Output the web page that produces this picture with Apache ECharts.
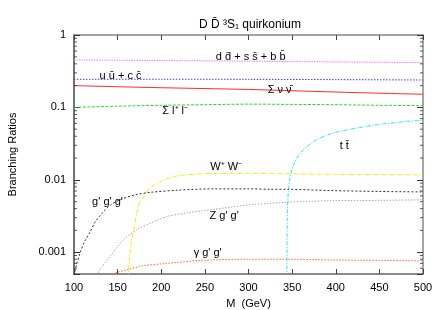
<!DOCTYPE html>
<html><head><meta charset="utf-8">
<script src="https://cdn.jsdelivr.net/npm/echarts@6/dist/echarts.min.js"></script>
<style>html,body{margin:0;padding:0;background:#fff}#c{width:443px;height:310px}</style>
</head><body><div id="c"></div>
<script>
// Data: [M (GeV), branching ratio]
const ddss = [[100,0.452],[150,0.448],[200,0.444],[250,0.440],[300,0.435],[350,0.430],[400,0.425],[450,0.420],[500,0.415]];
const uucc = [[100,0.244],[200,0.245],[300,0.244],[400,0.242],[500,0.239]];
const nunu = [[100,0.200],[150,0.193],[200,0.187],[250,0.182],[300,0.177],[350,0.170],[400,0.163],[450,0.157],[500,0.152]];
const llbar = [[100,0.100],[150,0.104],[200,0.107],[250,0.109],[300,0.111],[350,0.110],[400,0.109],[450,0.107],[500,0.106]];
const ttbar = [[344,0.00045],[344.4,0.003],[345,0.0052],[346,0.0074],[347.8,0.011],[351.6,0.016],[359.3,0.0233],[374.5,0.0337],[393.7,0.043],[412.8,0.0488],[451,0.0585],[500,0.067]];
const wwbar = [[162,0.00045],[163.5,0.0008],[165,0.0012],[168,0.0019],[173.8,0.0043],[176,0.0050],[181.5,0.0062],[186,0.0075],[192,0.0085],[198.7,0.0094],[207,0.0104],[217.8,0.0113],[240.8,0.0120],[270,0.0123],[300,0.0123],[350,0.0121],[400,0.0119],[450,0.0118],[500,0.0117]];
const gggs = [[100,0.00048],[103,0.00068],[106.9,0.00097],[112,0.0014],[118.4,0.0019],[125,0.0027],[133.6,0.0036],[142,0.0045],[152.8,0.0053],[170,0.0062],[187,0.0067],[220,0.0072],[260,0.0075],[300,0.0075],[325,0.0074],[344,0.0074],[394,0.0071],[450,0.0069],[500,0.0068]];
const zggs = [[126,0.00048],[132,0.00063],[141.3,0.00087],[156.6,0.00148],[171.9,0.00205],[187,0.0025],[206,0.0031],[230,0.0035],[252,0.0038],[300,0.0045],[325,0.00475],[344,0.0049],[394,0.00515],[450,0.0052],[500,0.0053]];
const aggs = [[141,0.00049],[150,0.00053],[160.4,0.00057],[179.5,0.00065],[206,0.0007],[217.8,0.00072],[245,0.00077],[300,0.0008],[344,0.0008],[400,0.00078],[450,0.00077],[500,0.00076]];

const xTicks = [100,150,200,250,300,350,400,450,500];
const yMajor = [0.001,0.01,0.1,1];
const yMinor = [0.0006,0.0007,0.0008,0.0009,0.002,0.003,0.004,0.005,0.006,0.007,0.008,0.009,0.02,0.03,0.04,0.05,0.06,0.07,0.08,0.09,0.2,0.3,0.4,0.5,0.6,0.7,0.8,0.9];

// label anchors [M, value, text]
const labels = {
  ddss: [302.5,0.497,'d d\u0304 + s s\u0304 + b b\u0304'],
  uucc: [153.3,0.272,'u u\u0304 + c c\u0304'],
  nunu: [335.7,0.174,'\u03A3 \u03BD \u03BD\u0304'],
  llbar: [215.9,0.089,'\u03A3 l\u207A l\u207B'],
  ttbar: [409.7,0.0294,'t t\u0304'],
  wwbar: [274.4,0.0152,'W\u207A W\u207B'],
  gggs: [138.4,0.005,"g' g' g'"],
  zggs: [272.1,0.00317,"Z g' g'"],
  aggs: [253.2,0.00099,"\u03B3 g' g'"]
};

const FONT = 'Liberation Sans, Arial, sans-serif';
function lineSeries(name, data, color, type, width) {
  const lb = labels[name];
  return {
    type: 'line', name: name, data: data, showSymbol: false, symbol: 'none',
    smooth: 0.3, clip: true, animation: false, silent: true,
    lineStyle: {color: color, width: width || 1, type: type},
    markPoint: {
      symbol: 'circle', symbolSize: 0, animation: false, silent: true,
      data: [{coord: [lb[0], lb[1]], value: lb[2]}],
      label: {show: true, position: 'inside', formatter: lb[2], color: '#000', fontSize: 11, fontFamily: FONT}
    }
  };
}

const chart = echarts.init(document.getElementById('c'), null, {renderer: 'canvas'});
const yFmt = v => { const l = Math.log10(v); return Math.abs(l - Math.round(l)) < 1e-6 ? String(+v.toPrecision(3)) : ''; };
chart.setOption({
  animation: false,
  backgroundColor: '#fff',
  title: {text: 'D D\u0304 \u00B3S\u2081 quirkonium', left: 245, top: 14, textAlign: 'center',
    textStyle: {fontSize: 12, fontWeight: 'normal', color: '#000', fontFamily: FONT}},
  grid: {left: 74, right: 20, top: 35, bottom: 36, containLabel: false, outerBoundsMode: 'none'},
  xAxis: [
    {type: 'value', min: 100, max: 500, interval: 50, position: 'bottom',
     name: 'M  (GeV)', nameLocation: 'middle', nameGap: 24,
     nameTextStyle: {fontSize: 11, color: '#000', fontFamily: FONT},
     axisLine: {show: true, lineStyle: {color: '#666', width: 1.5}},
     axisTick: {show: true, inside: true, length: 5, lineStyle: {color: '#444'}},
     axisLabel: {fontSize: 11, color: '#000', margin: 8, fontFamily: FONT},
     splitLine: {show: false}},
    {type: 'value', min: 100, max: 500, interval: 50, position: 'top',
     axisLine: {show: true, lineStyle: {color: '#888', width: 1.5}},
     axisTick: {show: true, inside: true, length: 5, lineStyle: {color: '#444'}},
     axisLabel: {show: false}, splitLine: {show: false}}
  ],
  yAxis: [
    {type: 'log', min: 0.0005, max: 1, position: 'left',
     name: 'Branching Ratios', nameLocation: 'middle', nameGap: 56,
     nameTextStyle: {fontSize: 11, color: '#000', fontFamily: FONT},
     axisLine: {show: true, lineStyle: {color: '#444', width: 1.5}},
     axisTick: {show: true, inside: true, length: 6, lineStyle: {color: '#333'}},
     axisLabel: {fontSize: 11, color: '#000', margin: 8, formatter: yFmt, fontFamily: FONT},
     splitLine: {show: false}, minorTick: {show: false}},
    {type: 'log', min: 0.0005, max: 1, position: 'right',
     axisLine: {show: true, lineStyle: {color: '#888', width: 1.5}},
     axisTick: {show: true, inside: true, length: 6, lineStyle: {color: '#333'}},
     axisLabel: {show: false}, splitLine: {show: false}}
  ],
  series: [
    lineSeries('ddss', ddss, '#f07cf0', [1.5,1]),
    lineSeries('uucc', uucc, '#3a3aff', [1.5,1.5]),
    lineSeries('nunu', nunu, '#ff2a2a', 'solid'),
    lineSeries('llbar', llbar, '#2ed82e', [3,1.5]),
    lineSeries('ttbar', ttbar, '#30e4ee', [4,1.5,1,1.5]),
    lineSeries('wwbar', wwbar, '#eeee00', [4,1.5,1,1.5]),
    lineSeries('gggs', gggs, '#303030', [2,2]),
    lineSeries('zggs', zggs, '#a8a8a8', [1.5,1.5]),
    lineSeries('aggs', aggs, '#ff6a3a', [1.5,1.5]),
    {type: 'scatter', data: yMinor.map(v => [100, v]), symbol: 'rect', symbolSize: [3, 1], symbolOffset: [1.5, 0],
     itemStyle: {color: '#333'}, silent: true, animation: false, clip: false, z: 5},
    {type: 'scatter', data: yMinor.map(v => [500, v]), symbol: 'rect', symbolSize: [3, 1], symbolOffset: [-1.5, 0],
     itemStyle: {color: '#333'}, silent: true, animation: false, clip: false, z: 5}
  ]
});
</script></body></html>
